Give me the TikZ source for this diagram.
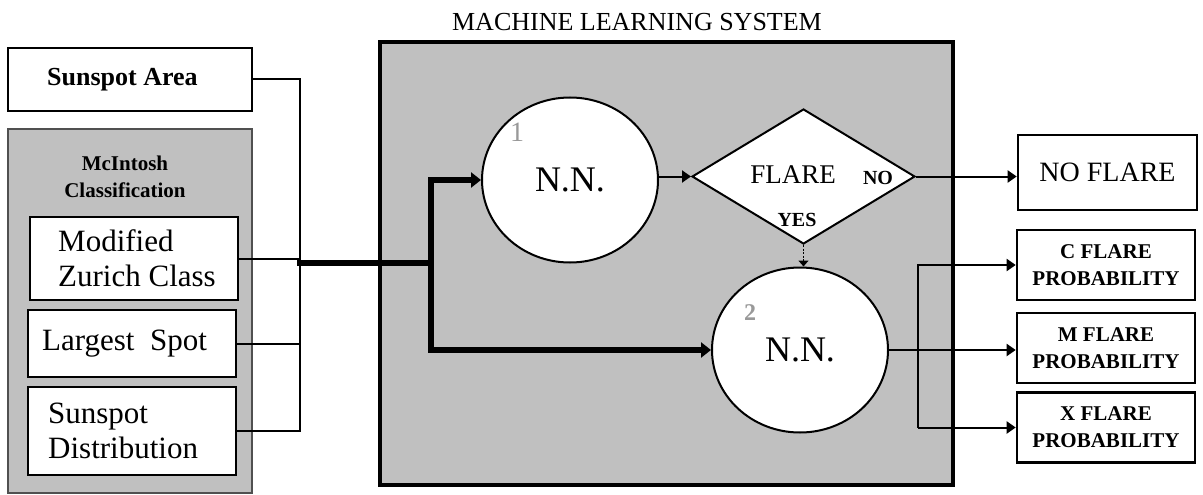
\documentclass[tikz,border=0pt]{standalone}
\usepackage{fontspec}
\setmainfont{Liberation Serif}
\usetikzlibrary{arrows.meta,shapes.geometric}
\definecolor{panel}{HTML}{C0C0C0}
\definecolor{numgray}{HTML}{999999}
\definecolor{rim}{HTML}{505050}
\newcommand{\fsz}[2]{\fontsize{#1}{#2}\selectfont}
\begin{document}
\begin{tikzpicture}[x=1pt,y=-1pt,
  conn/.style={line width=2pt},
  arrow/.style={conn,-{Triangle[length=9pt,width=12pt]}},
  busline/.style={line width=5.5pt},
  busarrow/.style={busline,-{Triangle[length=10pt,width=15pt]}},
  probe/.style={line width=1.8pt,dash pattern=on 2pt off 1.5pt,-{Triangle[length=6pt,width=10pt]}},
  outbox/.style={draw,fill=white,line width=2.6pt,minimum width=178pt,minimum height=70pt,inner sep=0pt,align=center,font=\bfseries\fsz{21}{27}},
  inbox/.style={draw,fill=white,line width=2pt,inner sep=0pt,minimum width=208pt},
  intext/.style={anchor=west,align=left,inner sep=0pt,font=\fsz{31}{35}},
  netnode/.style={ellipse,draw,fill=white,line width=2pt,minimum width=176pt,minimum height=165pt,inner sep=0pt,font=\fsz{36}{40}},
  numlabel/.style={text=numgray,inner sep=0pt},
  tag/.style={font=\bfseries\fsz{20}{24},inner sep=0pt},
]
\useasboundingbox (0,0) rectangle (1203,495);

% system panel and title
\node[font=\fsz{26}{30}] (title) at (637,22) {MACHINE LEARNING SYSTEM};
\node[draw,fill=panel,line width=3.5pt,minimum width=573pt,minimum height=443pt,inner sep=0pt] (mls) at (666.5,263.5) {};

% inputs
\node[draw,fill=white,line width=2pt,minimum width=244pt,minimum height=63pt,inner sep=0pt] (area) at (130,79.5) {};
\node[font=\bfseries\fsz{26}{30},inner sep=0pt] (areatext) at (122.5,80) {Sunspot Area};

\node[draw=rim,fill=panel,line width=2pt,minimum width=244pt,minimum height=364pt,inner sep=0pt] (mcintosh) at (130,311) {};
\node[font=\bfseries\fsz{21}{27},align=center,inner sep=0pt] (mctitle) at (125,177) {McIntosh\\Classification};

\node[inbox,minimum height=83pt] (zurich) at (134,258.5) {};
\node[intext,xshift=29pt] (zurichtext) at (zurich.west) {Modified\\Zurich Class};
\node[inbox,minimum height=67pt] (largest) at (132,343.5) {};
\node[intext,xshift=15pt] (largesttext) at (largest.west) {Largest\ \ Spot};
\node[inbox,minimum height=88pt] (distrib) at (132,431) {};
\node[intext,xshift=21pt] (distribtext) at (distrib.west) {Sunspot\\Distribution};

% networks and decision
\node[netnode] (nn1) at (570,180) {N.N.};
\node[numlabel,font=\fsz{28}{30}] (n1) at (517,132) {1};
\node[diamond,draw,fill=white,line width=2pt,minimum width=223pt,minimum height=135pt,inner sep=0pt] (dec) at (803.5,176.5) {};
\node[font=\fsz{27}{30},inner sep=0pt] (flare) at (793,175) {FLARE};
\node[tag] (no) at (878,178) {NO};
\node[tag] (yes) at (797,220) {YES};
\node[netnode] (nn2) at (800,350) {N.N.};
\node[numlabel,font=\bfseries\fsz{24}{28}] (n2) at (750,313) {2};

% outputs
\node[draw,fill=white,line width=2.6pt,minimum width=179pt,minimum height=75pt,inner sep=0pt,font=\fsz{28}{30}] (noflare) at (1107.5,172.5) {NO FLARE};
\node[outbox] (cbox) at (1106,265) {C FLARE\\PROBABILITY};
\node[outbox] (mbox) at (1106,348) {M FLARE\\PROBABILITY};
\node[outbox] (xbox) at (1106,427.5) {X FLARE\\PROBABILITY};

% input bus
\coordinate (busx) at (300,263);
\coordinate (split) at (431,263);
\draw[conn] (area.east) -| (busx |- distrib.east) -- (distrib.east);
\draw[conn] (zurich.east) -- (busx |- zurich.east);
\draw[conn] (largest.east) -- (busx |- largest.east);
\draw[busline,line cap=rect] (busx) -- (split);
\draw[busarrow] (split) |- (nn1.west);
\draw[busarrow] (split) |- (nn2.west);

% flow inside the system
\draw[arrow] (dec.west -| nn1.east) -- (dec.west);
\draw[arrow] (dec.east) -- (dec.east -| noflare.west);
\draw[probe] (dec.south) -- (dec.south |- nn2.north);

% output fan
\coordinate (fork) at (918,350);
\draw[arrow] (nn2.east) -- (nn2.east -| mbox.west);
\draw[arrow] (fork |- xbox.west) |- (cbox.west);
\draw[arrow] (fork |- xbox.west) -- (xbox.west);
\end{tikzpicture}
\end{document}
